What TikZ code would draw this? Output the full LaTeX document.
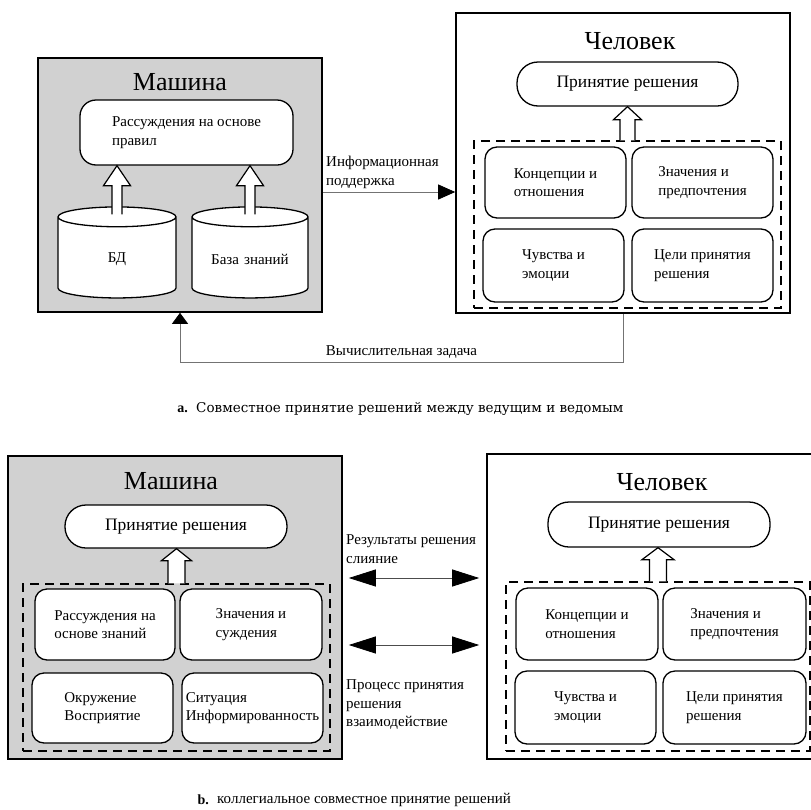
\documentclass[tikz,border=0pt]{standalone}
\usepackage{fontspec}
\setmainfont{Liberation Serif}
\newfontfamily\captionfont{DejaVu Serif}
\usetikzlibrary{arrows.meta, calc, shapes.geometric, positioning}

\tikzstyle{machineBox}=[draw, line width=1.6pt, fill=black!18, inner sep=0pt]
\tikzstyle{humanBox}=[draw, line width=1.6pt, fill=white, inner sep=0pt]
\tikzstyle{titleNode}=[inner sep=0pt, font=\fontsize{26}{30}\selectfont]
\tikzstyle{decisionNode}=[draw, line width=1.3pt, fill=white, rounded corners=21pt, inner sep=0pt, font=\fontsize{17.5}{20}\selectfont]
\tikzstyle{factorNode}=[draw, line width=1.3pt, fill=white, rounded corners=12pt, inner sep=0pt, align=left, minimum width=141pt, minimum height=71pt, font=\fontsize{15}{18.5}\selectfont]
\tikzstyle{groupFrame}=[draw, line width=1.1pt, dash pattern=on 9pt off 6pt, inner sep=0pt]
\tikzstyle{dbNode}=[draw, cylinder, shape border rotate=90, aspect=0.2, line width=1.3pt, fill=white, inner sep=2pt, text width=95pt, align=center, minimum height=91pt, font=\fontsize{15}{18.5}\selectfont]
\tikzstyle{invisNode}=[inner sep=0pt, align=left, font=\fontsize{15}{18.5}\selectfont]
\tikzstyle{captionNode}=[inner sep=0pt, font=\captionfont\fontsize{13.5}{16}\selectfont]
\tikzstyle{captionNodeB}=[inner sep=0pt, font=\fontsize{15}{18}\selectfont]
\tikzstyle{markNode}=[inner sep=0pt, font=\bfseries\fontsize{14}{16}\selectfont]
\tikzstyle{hollowArrowLine}=[line width=1.2pt, fill=white, line join=miter]
\tikzstyle{infoTransition}=[draw=black!55, line width=0.8pt, -{Triangle[length=17pt,width=15pt,color=black]}]
\tikzstyle{taskTransition}=[draw=black!55, line width=0.8pt, -{Triangle[length=11pt,width=16pt,color=black]}]
\tikzstyle{fusionTransition}=[draw=black!70, line width=0.8pt, shorten <=6pt, shorten >=7pt, {Triangle[length=27pt,width=17pt,color=black]}-{Triangle[length=27pt,width=17pt,color=black]}]

% hollow arrow: start, end, shaft half width, head half width, head length
\newcommand{\hollowArrow}[5]{%
  \draw[hollowArrowLine] let \p1=(#1), \p2=(#2) in
    (\x1-#3,\y1) -- (\x1-#3,\y2-#5) -- (\x1-#4,\y2-#5) -- (\x1,\y2)
    -- (\x1+#4,\y2-#5) -- (\x1+#3,\y2-#5) -- (\x1+#3,\y1);}

\begin{document}
\begin{tikzpicture}[x=1pt,y=-1pt]
    \useasboundingbox (0,0) rectangle (811,809);
    \clip (0,0) rectangle (811,809);

    % Machine Nodes (a)
    \node[machineBox, minimum width=284, minimum height=254] (machineA) at (180,185) {};
    \node[titleNode] (machineTitleA) at (180,82) {Машина};
    \node[dbNode, minimum width=118] (dbCyl) at (117,259) {БД};
    \node[dbNode, minimum width=116] (kbCyl) at (250,259) {База знаний};
    \node[factorNode, minimum width=213, minimum height=65, rounded corners=16pt] (ruleBox) at (186.5,132.5) {Рассуждения на основе\\правил};
    \hollowArrow{[yshift=-8pt]dbCyl.north}{ruleBox.south}{5pt}{13.5pt}{20pt}
    \hollowArrow{[yshift=-8pt]kbCyl.north}{ruleBox.south}{5pt}{13.5pt}{20pt}

    % Human Nodes (a)
    \node[humanBox, minimum width=334, minimum height=300] (humanA) at (623,163) {};
    \node[titleNode] (humanTitleA) at (630,41) {Человек};
    \node[decisionNode, minimum width=221, minimum height=44] (decisionA) at (627.5,84) {Принятие решения};
    \node[groupFrame, minimum width=307, minimum height=167] (groupA) at (627.5,224.5) {};
    \hollowArrow{groupA.north}{decisionA.south}{7.5pt}{14pt}{13pt}
    \node[factorNode] (conceptA) at (555.5,182.5) {Концепции и\\отношения};
    \node[factorNode] (valueA) at (702.5,182.5) {Значения и\\предпочтения};
    \node[factorNode, minimum height=73] (feelA) at (553.5,265.5) {Чувства и\\эмоции};
    \node[factorNode, minimum height=73] (goalA) at (702.5,265.5) {Цели принятия\\решения};

    % Arcs (a)
    \coordinate (infoStart) at (machineA.east |- 0,192);
    \draw[infoTransition] (infoStart) -- (infoStart -| humanA.west);
    \node[invisNode, anchor=west] (infoLabel) at (326,172.5) {Информационная\\поддержка};
    \draw[taskTransition] (humanA.south) -- ++(0,49) -| (machineA.south)
        node[invisNode, pos=0.25, above=4pt] (taskLabel) {Вычислительная задача};

    % Caption (a)
    \node[markNode, anchor=east] (markA) at (188,409) {a.};
    \node[captionNode, anchor=west] (captionA) at (196,409) {Совместное принятие решений между ведущим и ведомым};

    % Machine Nodes (b)
    \node[machineBox, minimum width=334, minimum height=303] (machineB) at (175,607.5) {};
    \node[titleNode] (machineTitleB) at (171,481) {Машина};
    \node[decisionNode, minimum width=222, minimum height=43] (decisionB) at (176,526.5) {Принятие решения};
    \node[groupFrame, minimum width=307, minimum height=167] (groupB) at (176.5,667.5) {};
    \hollowArrow{groupB.north}{decisionB.south}{8.5pt}{15pt}{12pt}
    \node[factorNode, minimum width=140] (knowB) at (105,624.5) {Рассуждения на\\основе знаний};
    \node[factorNode, minimum width=142] (judgeB) at (251,624.5) {Значения и\\суждения};
    \node[factorNode, minimum height=70] (envB) at (102.5,708) {Окружение\\Восприятие};
    \node[factorNode, minimum height=70] (situB) at (252.5,708) {Ситуация\\Информированность};

    % Human Nodes (b)
    \node[humanBox, minimum width=348, minimum height=305] (humanB) at (661,606.5) {};
    \node[titleNode] (humanTitleB) at (662,482) {Человек};
    \node[decisionNode, minimum width=222, minimum height=45] (decisionHB) at (659,524.5) {Принятие решения};
    \node[groupFrame, minimum width=304, minimum height=169] (groupHB) at (658,666.5) {};
    \hollowArrow{groupHB.north}{decisionHB.south}{8.5pt}{16pt}{12pt}
    \node[factorNode, minimum width=142, minimum height=72] (conceptB) at (587,624) {Концепции и\\отношения};
    \node[factorNode, minimum width=143, minimum height=72] (valueB) at (734.5,624) {Значения и\\предпочтения};
    \node[factorNode, minimum height=73] (feelB) at (585.5,707.5) {Чувства и\\эмоции};
    \node[factorNode, minimum width=143, minimum height=73] (goalB) at (734.5,707.5) {Цели принятия\\решения};

    % Arcs (b)
    \coordinate (fusionStart) at (machineB.east |- 0,578);
    \coordinate (processStart) at (machineB.east |- 0,645);
    \draw[fusionTransition] (fusionStart) -- (fusionStart -| humanB.west);
    \draw[fusionTransition] (processStart) -- (processStart -| humanB.west);
    \node[invisNode, anchor=west] (fusionLabel) at (346,549) {Результаты решения\\слияние};
    \node[invisNode, anchor=west] (processLabel) at (346,705) {Процесс принятия\\решения\\взаимодействие};

    % Caption (b)
    \node[markNode, anchor=east] (markB) at (209,800) {b.};
    \node[captionNodeB, anchor=west] (captionB) at (217,800) {коллегиальное совместное принятие решений};

\end{tikzpicture}
\end{document}
